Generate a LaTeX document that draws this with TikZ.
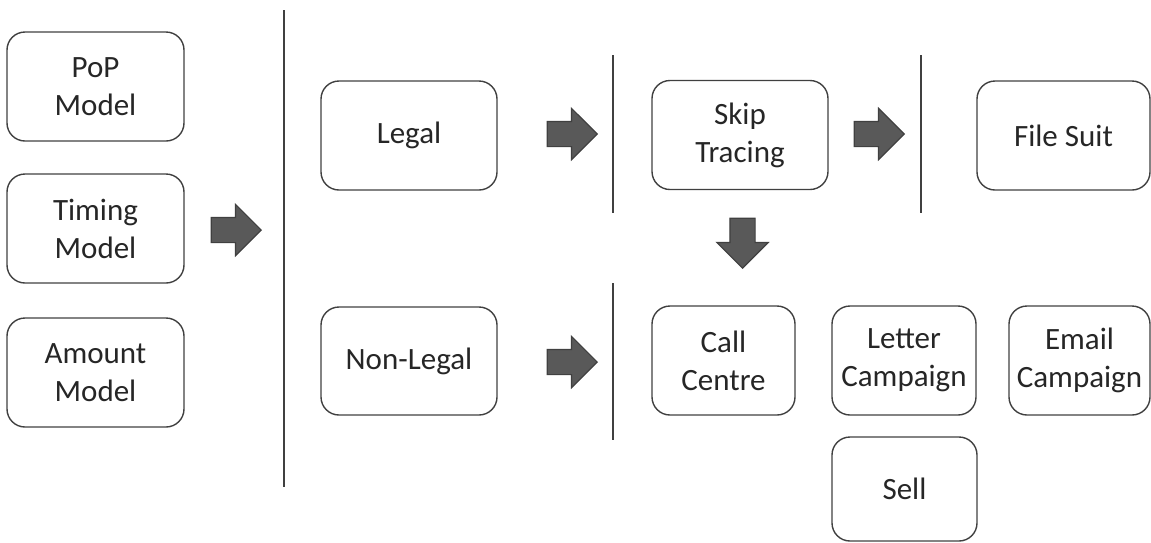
\documentclass[tikz,border=0pt]{standalone}
\usepackage{fontspec}
\setmainfont{Carlito}
\usetikzlibrary{shapes.arrows}
\definecolor{edge}{HTML}{404040}
\definecolor{arrfill}{HTML}{595959}
\definecolor{txt}{HTML}{262626}
\tikzset{
  box/.style={draw=edge, line width=1.4pt, rounded corners=18pt, align=center,
    text=txt, inner sep=1pt, font=\fontsize{31}{38}\selectfont},
  blockarrow/.style={single arrow, draw=edge, fill=arrfill, line width=1.2pt,
    inner xsep=0pt, inner ysep=12pt, text height=0pt, text depth=0pt,
    minimum height=50pt, single arrow head extend=13pt, anchor=tip},
  divider/.style={draw=edge, line width=1.5pt}
}
\begin{document}
\begin{tikzpicture}[x=1pt,y=-1pt]
\useasboundingbox (0,0) rectangle (1151,542);
% left models
\node[box, minimum width=177pt, minimum height=109pt] (pop) at (95.5,86.5) {PoP\\Model};
\node[box, minimum width=177pt, minimum height=109pt] (timing) at (95.5,228.5) {Timing\\Model};
\node[box, minimum width=177pt, minimum height=109pt] (amount) at (95.5,372.5) {Amount\\Model};
\node[blockarrow] (a0) at (262,230) {};
% dividers
\coordinate (d1t) at (284,10); \coordinate (d1b) at (284,487);
\coordinate (d2t) at (613,55); \coordinate (d2b) at (613,213);
\coordinate (d3t) at (921,55); \coordinate (d3b) at (921,213);
\coordinate (d4t) at (613,283); \coordinate (d4b) at (613,440);
\draw[divider] (d1t) -- (d1b);
\draw[divider] (d2t) -- (d2b);
\draw[divider] (d3t) -- (d3b);
\draw[divider] (d4t) -- (d4b);
% top row
\node[box, minimum width=176pt, minimum height=109pt] (legal) at (409,135.5) {Legal};
\node[blockarrow] (a1) at (598,134) {};
\node[box, minimum width=176pt, minimum height=109pt] (skip) at (740,135) {Skip\\Tracing};
\node[blockarrow] (a2) at (905,134) {};
\node[box, minimum width=173pt, minimum height=109pt] (file) at (1063.5,135.5) {File Suit};
\node[blockarrow, rotate=-90] (a3) at (742.5,269) {};
% bottom row
\node[box, minimum width=176pt, minimum height=108pt] (nonlegal) at (409,361) {Non-Legal};
\node[blockarrow] (a4) at (598,362) {};
\node[box, minimum width=143pt, minimum height=109pt] (call) at (723.5,360.5) {Call\\Centre};
\node[box, minimum width=144pt, minimum height=109pt] (letter) at (904,360.5) {Letter\\Campaign};
\node[box, minimum width=141pt, minimum height=109pt] (email) at (1079.5,360.5) {Email\\Campaign};
\node[box, minimum width=145pt, minimum height=104pt] (sell) at (904.5,489) {Sell};
\end{tikzpicture}
\end{document}
